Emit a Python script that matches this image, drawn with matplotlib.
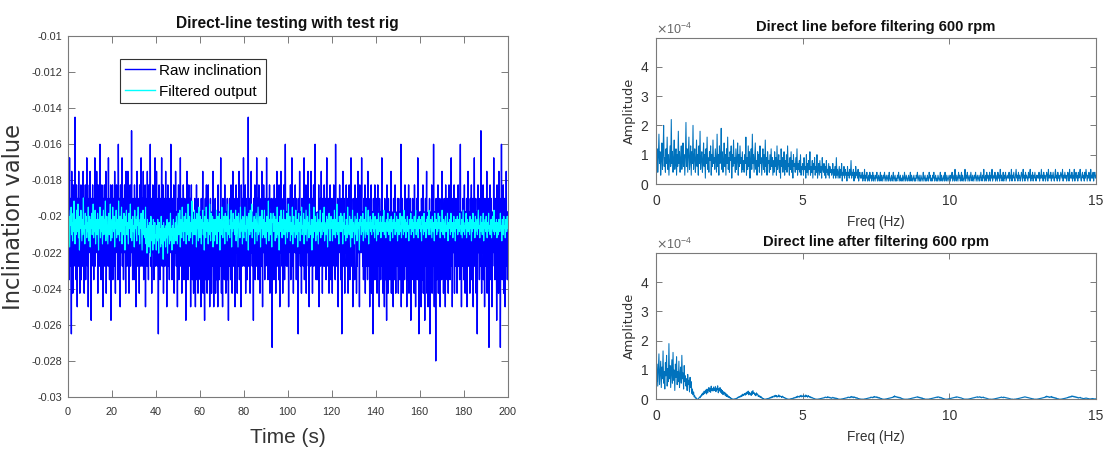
import numpy as np
import matplotlib
matplotlib.use('Agg')
import matplotlib.pyplot as plt
from matplotlib.ticker import FuncFormatter, ScalarFormatter, MultipleLocator

# ---------------- data ----------------
# Raw inclination: sensor is quantised; values stored as level index
# inclination = RAW_BASE + level * RAW_STEP   (0 .. 200 s)
RAW_BASE = -0.0205
RAW_STEP = 0.00075
raw_level = [
 0,3,-2,1,-4,5,-1,2,-3,0,-8,4,-2,1,-5,3,0,-3,2,-1,
 8,-2,1,-4,3,-1,-6,2,0,-3,4,-2,1,-5,2,-1,3,-4,0,2,
 -3,1,4,-2,0,-5,2,-1,3,-4,1,-2,5,0,-3,2,-6,1,-1,3,
 -2,4,-1,0,-7,2,-3,1,3,-2,0,-4,2,-1,5,-3,1,0,-2,4,
 -1,2,-5,3,0,-2,1,-3,6,-1,2,-4,0,3,-2,1,-6,2,-1,0,
 3,-3,1,-1,4,-5,0,2,-2,1,-3,5,-1,0,-4,2,-2,3,-7,1,
 0,-2,3,-4,1,2,-1,-3,4,0,-5,2,-1,3,-2,0,1,-4,6,-1,
 -3,2,0,-6,3,-1,1,-2,5,-3,0,2,-4,1,-1,3,-2,0,-5,4,
 2,-1,-3,1,4,-2,0,-5,2,-1,3,-3,1,-2,7,-1,0,-4,2,-2,
 1,-4,3,0,-2,2,-6,1,-1,4,-3,0,2,-2,1,-5,3,-1,0,-3,
 5,-2,0,-3,2,-1,4,-4,1,-2,0,3,-6,2,-1,1,-3,4,-2,0,
 -4,3,-1,1,-2,6,-3,0,2,-5,1,-1,3,-2,0,-4,2,-1,5,-3,
 0,-2,4,-1,-3,1,2,-8,0,3,-2,1,-4,2,-1,0,5,-3,1,-2,
 3,-5,1,-1,2,-3,0,4,-2,1,-6,2,-1,3,-3,0,1,-4,2,-1,
 -2,6,-1,0,-4,2,-3,1,-1,3,-5,0,2,-2,4,-1,-3,1,0,-6,
 2,-1,3,-4,0,1,-2,5,-3,-1,2,-5,1,0,-2,3,-1,-4,2,1,
 -3,0,-7,2,-1,4,-2,1,-4,0,3,-3,1,-1,2,-6,0,3,-2,1,
 -4,1,-2,-5,0,-3,2,-1,-6,1,-2,3,-4,0,-1,-5,2,-3,0,-2,
 1,-4,-1,-6,2,-3,0,-2,4,-5,-1,1,-3,-7,0,2,-4,-1,3,-2,
 -5,0,-2,3,-4,-1,1,-6,-2,2,-3,0,-5,1,-1,-3,4,-2,-6,0,
 -1,-3,2,-5,0,-2,-4,1,-1,-6,3,-2,0,-4,1,-3,-1,5,-2,-5,
 0,-2,-6,2,-3,1,-1,-4,3,-2,0,-5,1,-3,-1,2,-4,0,-7,1,
 -3,2,-1,0,-4,3,-2,1,-5,0,4,-1,-3,2,-2,0,-6,1,-1,3,
 -2,0,-5,2,-1,-3,1,4,-4,0,-2,1,-6,3,-1,0,-3,2,-2,5,
 1,-3,0,-1,3,-5,2,-2,0,-4,1,-1,8,-3,0,2,-2,-5,1,-1,
 4,-2,0,-3,1,-1,-7,2,0,-2,3,-4,1,-1,-3,5,0,-2,2,-4,
 -1,3,-2,0,-5,1,-1,2,-3,4,0,-6,1,-2,3,-1,0,-4,2,-3,
 0,-2,5,-1,-3,1,-4,2,0,-2,3,-5,1,-1,-3,2,0,-9,1,-2,
 2,-1,-4,3,0,-2,1,-5,2,-1,4,-3,0,-2,1,-4,3,-1,-6,0,
 -2,4,-1,1,-3,0,-5,2,-2,3,-1,-4,0,6,-2,1,-3,0,-1,2,
 -3,1,-6,2,-1,0,-2,3,-4,1,-1,5,-3,0,2,-5,1,-2,0,-1,
 3,-2,0,-4,2,-1,1,-3,-8,0,2,-2,4,-1,-3,1,0,-5,2,-2,
 -1,2,-3,0,5,-4,1,-1,-2,3,-5,0,1,-2,-1,4,-3,1,-6,0,
 2,-1,-3,4,0,-2,1,-5,2,-1,3,-3,0,-2,6,-1,1,-4,0,-2,
 -4,1,0,-2,3,-6,1,-1,2,-3,0,4,-2,1,-5,2,-1,0,-3,3,
 0,-3,2,-1,-4,1,5,-2,0,-3,2,-1,-5,1,-2,3,0,-4,1,-1,
 2,-5,1,-2,0,3,-3,1,-1,-4,6,-2,0,-3,1,-1,2,-6,0,-2,
 -1,3,-2,0,-4,2,-1,-8,1,-2,4,0,-3,2,-1,-5,1,0,-2,3,
 -3,0,2,-1,-5,1,-2,3,0,-4,2,-1,5,-3,1,-2,0,-6,2,-1,
 1,-2,-4,3,0,-1,2,-5,1,-3,0,4,-2,-1,1,-6,3,-2,0,-1,
 -2,5,-1,0,-3,1,-4,2,-2,0,3,-5,1,-1,-3,2,0,-4,4,-1,
 0,-3,1,-6,2,-1,-2,3,-5,0,1,-2,-8,2,-1,0,-4,3,-2,1,
 -4,2,-1,-5,0,3,-3,-1,1,-6,2,-2,0,-4,1,-3,5,-1,-2,-5,
 1,-3,-1,-6,2,0,-4,1,-2,-7,3,-1,0,-5,2,-3,-1,1,-4,0,
 -2,4,-5,0,-1,-3,1,-6,2,-2,0,-4,3,-1,-5,1,-2,0,-3,2,
 -1,-5,2,-3,0,-4,1,-2,6,-6,0,-1,2,-3,-5,1,-2,0,-4,3,
 -3,0,-2,1,-6,2,-1,-4,0,3,-5,1,-2,-1,2,-7,0,-3,1,-1,
 2,-4,0,-1,-5,3,-2,1,-6,0,-3,2,-1,-4,5,-2,0,-8,1,-1,
 -3,1,-2,-6,2,-1,0,-4,3,-5,-1,1,-2,-7,0,2,-3,-1,4,-5,
 0,-2,-6,1,-3,-1,2,-8,0,-4,1,-2,3,-5,-1,0,-3,6,-2,-6,
 1,-3,0,-10,2,-1,-4,1,-2,3,-5,0,-1,-3,2,-6,1,-2,0,-4,
 4,-1,-3,1,-5,0,2,-2,-1,-6,3,-3,0,1,-4,2,-1,-5,0,3,
 -2,0,-4,2,-1,5,-3,1,-6,0,2,-2,-1,3,-5,1,0,-3,2,-1,
 1,-5,0,-2,3,-3,1,-1,-4,2,6,-2,0,-6,1,-1,-3,2,0,-4,
 -1,3,-2,-5,1,0,-3,2,-6,1,-1,4,-3,0,-2,1,-5,2,-1,0,
 3,-4,0,-1,2,-6,1,-2,5,-3,0,-1,2,-5,1,-2,-8,0,3,-1,
 -2,1,-4,2,0,-3,7,-1,-5,1,-2,0,3,-4,1,-1,-6,2,0,-3,
 1,-2,4,-5,0,-1,2,-3,-9,1,-2,3,0,-4,2,-1,-6,1,-3,0,
 -1,5,-2,0,-4,2,-3,1,-1,-7,3,0,-2,1,-5,4,-1,-3,2,-9,
 0,-3,6,-1,-4,1,-2,3,-5,0,2,-1,-6,1,-3,4,-2,0,-4,1,
]

# Filtered output: inclination = FILT_BASE + level * FILT_STEP  (0 .. 200 s)
FILT_BASE = -0.0205
FILT_STEP = 0.00017
filt_level = [
 2,-4,5,-1,-7,3,0,6,-3,1,-5,4,-2,8,-1,-6,2,-3,5,0,
 -2,7,-4,1,-8,3,-1,5,0,-5,2,-3,9,-2,0,-6,4,-1,3,-4,
 1,-2,6,-5,0,3,-7,2,-1,4,-3,0,7,-4,1,-2,5,-6,2,-1,
 -3,4,0,-8,2,-1,6,-4,1,-2,3,-6,0,5,-3,2,-1,8,-5,0,
 3,-2,-6,1,4,-3,0,7,-5,2,-1,-4,6,0,-2,3,-7,1,-1,5,
 -4,2,0,-3,8,-1,-5,3,-2,1,6,-6,0,2,-3,4,-1,-8,3,0,
 5,-3,1,-2,-6,4,0,-1,7,-4,2,-5,1,3,-2,0,-7,5,-1,2,
 -2,-5,3,0,6,-3,1,-6,2,-1,4,-2,-8,1,5,-3,0,2,-4,6,
 -6,-1,-9,2,-4,0,-7,1,-3,-10,3,-2,-5,0,-8,2,-1,-6,1,-4,
 -3,-8,0,-5,2,-2,-9,1,-4,-1,-7,3,-3,-6,0,-11,1,-2,-5,-1,
 -7,0,-4,2,-9,-1,-3,1,-6,-2,4,-5,-1,-8,0,-3,2,-6,-1,-4,
 1,-5,3,-2,-6,0,4,-3,-1,5,-7,2,0,-4,6,-2,1,-5,3,-1,
 -2,4,-6,0,2,-3,7,-1,-5,3,0,-4,1,-2,8,-6,2,-1,-3,5,
 0,-3,2,-7,4,-1,1,-5,6,-2,-4,3,0,-6,2,-1,5,-3,1,-8,
 3,-1,-4,6,0,-2,2,-6,1,-3,7,-1,-5,4,0,-2,3,-7,2,0,
 -5,2,1,-3,5,-6,0,3,-2,-1,4,-8,2,0,-3,6,-1,-4,1,3,
 -1,-6,4,0,-2,3,-5,1,7,-3,0,-4,2,-1,5,-7,1,-2,4,-1,
 2,-3,-1,5,-5,0,3,-2,-7,4,1,-1,-4,6,-2,0,2,-6,3,-3,
 -4,1,6,-2,0,-5,3,-1,2,-8,4,0,-3,5,-1,-2,7,-4,1,-1,
 0,3,-6,2,-2,4,-1,-5,1,6,-3,0,-2,3,-7,1,-1,5,-4,2,
 -3,0,5,-4,1,-1,-6,3,0,-2,8,-5,2,-1,-3,4,0,-7,2,1,
 4,-2,-1,3,-5,0,2,-4,6,-1,-3,1,-8,3,0,-2,5,-1,-4,2,
 -1,5,-3,0,2,-6,1,-2,4,-4,0,7,-2,-1,3,-5,1,0,-3,6,
 -6,1,3,-2,0,-4,5,-1,-3,2,-7,0,4,-2,1,-5,3,-1,6,-3,
 0,-2,4,-6,2,-1,-3,5,0,-5,3,-1,1,-4,7,-2,0,-3,2,-8,
 2,-1,-4,6,-2,0,3,-5,1,-3,4,-1,-6,2,0,-2,5,-4,1,-1,
 -3,4,0,-2,6,-5,1,-1,-3,3,0,-7,2,-1,4,-2,-5,1,3,-1,
 1,-5,2,0,-3,5,-1,-4,2,-2,7,-3,0,1,-6,3,-1,-2,4,0,
 -2,3,-6,1,-1,4,-3,0,-5,2,1,-4,6,-2,0,-3,3,-1,-7,2,
 0,-4,5,-2,1,-1,-6,3,0,-3,2,-5,4,-1,1,-2,-8,2,0,3,
 -3,1,-2,4,-5,0,2,-1,-4,6,-2,1,-3,0,5,-6,1,-1,3,-2,
 1,-3,2,-1,4,-2,0,-4,3,-1,1,-5,2,0,-3,4,-1,1,-2,3,
 -4,1,-1,3,-2,0,5,-3,1,-1,-4,2,0,-2,4,-1,-3,1,2,-5,
 0,3,-2,1,-4,2,-1,0,4,-3,1,-2,3,-1,-5,2,0,-3,1,4,
 -2,0,-4,3,-1,1,-3,5,-2,0,2,-4,1,-1,3,-2,0,-5,2,1,
 -1,4,-3,0,2,-2,1,-4,3,-1,0,5,-3,1,-2,2,-4,0,3,-1,
 2,-2,0,-5,3,-1,1,-3,4,0,-2,1,-4,2,-1,3,0,-3,5,-2,
 -3,1,2,-1,-4,3,0,-2,1,-5,4,-1,0,2,-3,1,-2,4,-1,0,
 3,-4,1,0,-2,5,-1,-3,2,0,-4,1,3,-2,0,-1,4,-5,1,-1,
 0,2,-3,4,-1,-2,1,-4,0,3,-2,1,-5,2,0,-1,3,-3,1,2,
 -2,4,-1,0,-3,2,-4,1,5,-2,0,-3,1,-1,4,-4,0,2,-2,1,
 1,-3,3,-1,0,-5,2,-2,4,0,-1,1,-4,3,-2,0,2,-3,1,5,
 -1,0,-4,2,3,-2,1,-3,0,4,-5,1,-1,2,-2,3,0,-4,1,-1,
 4,-2,0,-3,1,2,-4,0,3,-1,-2,5,-3,1,0,-2,2,-4,1,0,
 -3,2,1,-2,4,-1,0,-5,2,1,-3,3,-1,0,-4,2,1,-2,3,-1,
]

# Amplitude spectrum before filtering, units of 1e-5 (0 .. 15 Hz)
amp_before = [
 15,6,12,4,9,17,7,11,3,8,14,5,10,20,6,9,4,12,7,16,5,10,3,8,13,6,22,7,11,4,9,15,5,8,12,3,10,6,18,7,11,4,9,13,5,8,14,6,10,3,
 9,21,6,12,4,10,16,5,8,13,3,11,7,20,5,9,12,4,8,15,6,10,3,13,7,18,5,9,11,4,8,14,6,10,2,12,7,16,5,9,4,11,8,13,3,10,6,15,7,9,
 5,12,8,4,17,6,10,3,13,7,9,19,5,11,4,8,14,6,10,3,12,7,16,5,9,4,11,8,13,2,10,6,15,7,9,4,12,5,8,14,3,10,6,13,7,9,4,11,5,8,
 4,10,7,16,3,9,5,13,6,11,2,8,12,5,17,7,10,4,9,14,5,8,3,11,6,10,4,13,7,9,3,8,12,5,10,4,15,6,9,3,11,7,8,4,10,5,12,6,9,3,
 8,4,11,6,9,3,13,5,7,10,4,8,2,12,6,9,4,7,11,3,8,5,10,4,13,6,7,3,9,5,11,4,8,2,10,6,7,4,9,5,12,3,7,5,8,4,10,3,6,5,
 7,3,9,5,6,2,10,4,7,3,8,5,11,3,6,4,8,2,7,5,9,3,6,4,10,2,5,7,3,8,4,6,2,9,5,4,7,3,6,2,8,4,5,3,7,2,6,4,5,3,
 4,7,2,5,3,6,2,9,3,5,2,4,6,2,5,3,7,1,4,3,6,2,5,3,4,1,6,3,4,2,5,3,8,2,4,3,5,1,4,2,6,3,4,2,5,1,3,4,2,3,
 2,4,1,3,2,5,1,3,2,4,1,2,3,1,4,2,3,1,2,4,1,3,2,1,3,2,4,1,2,3,1,2,4,1,3,2,1,3,2,4,1,2,3,1,2,3,1,4,2,1,
 2,3,1,2,4,1,2,3,1,2,1,3,2,4,1,2,3,1,2,1,3,2,1,4,2,1,3,2,1,2,3,1,2,4,1,3,2,1,2,3,1,2,1,3,2,4,1,2,3,1,
 1,3,2,1,2,4,1,2,3,1,2,1,3,2,1,4,2,3,1,2,1,3,2,4,1,2,3,1,2,1,3,2,1,2,4,1,3,2,1,2,3,1,4,2,1,3,2,1,2,3,
 2,1,3,2,4,1,2,3,1,5,2,1,3,2,1,4,2,3,1,2,4,1,3,2,1,2,5,1,3,2,4,1,2,3,1,2,4,2,1,3,2,1,3,2,4,1,2,3,1,2,
 3,1,2,4,2,1,3,2,5,1,2,3,1,4,2,3,1,2,4,1,3,2,5,1,2,3,2,4,1,3,2,1,4,2,3,1,5,2,3,1,2,4,1,3,2,4,1,2,3,2,
 2,4,1,3,2,5,1,3,2,4,2,1,3,5,2,3,1,4,2,3,1,2,4,3,1,5,2,3,1,4,2,3,2,1,4,2,3,5,1,3,2,4,1,3,2,4,2,1,3,2,
 3,2,4,1,3,2,5,2,3,1,4,2,3,1,2,4,3,1,5,2,3,2,4,1,3,2,4,2,1,3,5,2,3,1,4,2,3,1,2,4,3,2,5,1,3,2,4,2,3,1,
 2,4,3,1,5,2,3,2,4,1,3,2,5,1,3,4,2,3,1,4,2,3,5,2,1,3,4,2,3,1,4,2,5,3,1,3,2,4,3,1,5,2,3,2,4,1,3,4,2,3,
]

# Amplitude spectrum after filtering, units of 1e-6 (0 .. 15 Hz)
amp_after = [
 140,60,120,45,100,155,50,90,130,40,110,70,165,55,95,35,125,80,150,45,105,60,190,70,115,40,90,135,55,160,65,100,30,120,75,145,50,95,60,130,40,85,110,55,150,70,90,35,115,60,
 80,45,70,30,85,50,65,25,75,40,60,20,35,15,25,8,12,4,6,2,1,0,2,4,8,5,12,10,18,14,22,16,28,20,25,32,18,35,22,30,40,26,38,24,45,30,36,28,42,34,
 30,44,26,38,32,46,22,36,28,40,24,34,20,30,16,26,18,24,12,20,10,16,8,12,6,9,4,6,2,3,1,0,1,0,2,1,3,2,5,4,8,6,10,7,12,9,15,11,18,13,
 16,20,14,22,17,25,19,28,15,24,18,21,13,26,17,30,20,23,15,19,12,22,16,18,10,14,8,11,6,9,4,5,2,3,1,0,1,0,2,1,3,2,4,3,6,4,8,5,10,7,
 9,12,8,14,10,13,7,11,9,15,8,12,10,9,6,11,7,8,5,6,3,4,2,2,1,0,1,0,1,2,1,3,2,4,3,6,4,7,5,9,6,11,8,10,7,12,9,14,8,11,
 10,13,9,12,8,15,10,11,7,13,9,10,6,9,5,7,4,5,3,3,2,1,1,0,1,0,1,1,2,1,3,2,4,3,5,4,6,5,8,6,7,5,9,6,8,5,7,4,6,3,
 5,7,4,6,3,5,2,4,2,3,1,1,0,1,0,1,1,2,1,3,2,4,3,5,4,6,5,8,6,7,5,9,6,10,7,8,5,9,6,7,4,6,3,5,2,3,1,2,1,0,
 1,0,1,0,1,1,2,1,3,2,4,3,5,4,6,5,8,6,7,5,9,6,10,7,8,6,9,5,7,4,6,3,4,2,3,1,1,0,1,0,1,1,2,1,3,2,4,3,5,4,
 6,5,7,6,9,7,12,8,10,7,9,6,8,5,7,4,6,3,4,2,2,1,1,0,1,0,0,1,0,1,1,2,1,3,2,4,3,5,4,6,5,7,6,8,7,9,6,8,5,7,
 4,6,3,5,2,3,1,2,1,0,1,0,1,0,1,1,2,1,3,2,4,3,5,4,6,5,7,6,8,6,9,7,8,5,7,4,6,3,4,2,3,1,1,0,1,0,1,1,2,1,
 3,2,4,3,5,4,6,5,7,6,8,6,9,7,8,6,7,5,6,4,5,3,3,2,1,1,0,1,0,1,1,0,1,2,1,3,2,4,3,5,4,6,5,7,6,8,7,9,6,8,
 7,9,6,8,5,7,6,8,5,6,4,5,3,4,2,2,1,1,0,1,0,0,1,0,1,1,2,1,3,2,4,3,5,4,6,5,7,6,8,6,7,5,8,6,7,5,6,4,5,3,
 4,3,2,2,1,1,0,1,0,0,1,0,1,1,2,1,3,2,4,3,5,4,6,5,7,6,8,7,9,7,8,6,7,5,6,4,5,3,4,2,3,1,2,1,0,1,0,1,0,1,
 1,2,1,3,2,4,3,5,4,6,5,7,6,9,7,11,8,10,7,9,6,8,7,10,6,8,5,7,4,6,3,5,2,3,1,2,1,0,1,0,1,1,2,1,3,2,4,3,5,4,
 6,5,8,6,9,7,10,8,12,9,11,8,10,7,9,6,8,5,7,4,6,5,7,4,5,3,4,2,3,2,4,3,5,3,4,2,3,1,2,1,2,1,3,2,3,1,2,1,2,1,
]

left_title = 'Direct-line testing with test rig'
top_title = 'Direct line before filtering 600 rpm'
bot_title = 'Direct line after filtering 600 rpm'
legend_labels = ['Raw inclination', 'Filtered output']

# ---------------- style ----------------
SANS = ['Liberation Sans', 'DejaVu Sans']
WIDE = ['DejaVu Sans']
plt.rcParams['font.family'] = SANS
plt.rcParams['axes.unicode_minus'] = False

SPINE = '#7a7a7a'
TXT = '#333333'

W, H = 1105, 454
fig = plt.figure(figsize=(W / 100, H / 100), dpi=100)

def px_axes(x0, y0, x1, y1):
    return fig.add_axes([x0 / W, 1 - y1 / H, (x1 - x0) / W, (y1 - y0) / H])

def style(ax, tick_len, lab_size):
    for s in ax.spines.values():
        s.set_color(SPINE)
        s.set_linewidth(0.8)
    ax.tick_params(direction='in', length=tick_len, width=0.7, color=SPINE,
                   top=True, right=True, labelsize=lab_size, labelcolor=TXT)

# ---- left: time series ----
axL = px_axes(67.7, 36, 507.7, 397)
raw = RAW_BASE + np.array(raw_level) * RAW_STEP
filt = FILT_BASE + np.array(filt_level) * FILT_STEP
t_raw = np.linspace(0, 200, len(raw))
t_f = np.linspace(0, 200, len(filt))
axL.plot(t_raw, raw, color='#0000ff', lw=1.0, label=legend_labels[0])
axL.plot(t_f, filt, color='#00ffff', lw=0.8, label=legend_labels[1])
axL.set_xlim(0, 200)
axL.set_ylim(-0.03, -0.01)
axL.xaxis.set_major_locator(MultipleLocator(20))
axL.yaxis.set_major_locator(MultipleLocator(0.002))
axL.yaxis.set_major_formatter(FuncFormatter(lambda v, p: '%g' % round(v, 6)))
style(axL, 5, 7.8)
axL.tick_params(axis='x', pad=7)
axL.tick_params(axis='y', pad=4)
axL.set_title(left_title, fontsize=11.2, fontweight='bold', color='#111111', pad=6)
axL.set_xlabel('Time (s)', fontsize=15, color=TXT)
axL.xaxis.set_label_coords(0.5, -0.085)
axL.set_ylabel('Inclination value', fontsize=16.3, color=TXT, family=WIDE)
axL.yaxis.set_label_coords(-0.098, 0.5)
leg = axL.legend(loc='upper left', bbox_to_anchor=(0.119, 0.936), borderaxespad=0,
                 fontsize=11, frameon=True, fancybox=False, framealpha=1,
                 handlelength=2.0, handletextpad=0.25, borderpad=0.3, labelspacing=0.45)
leg.get_frame().set_edgecolor('#333333')
leg.get_frame().set_linewidth(0.8)
for line in leg.get_lines():
    line.set_linewidth(1.0)

# ---- right: spectra ----
def spectrum(ax, vals, unit, title):
    f = np.linspace(0, 15, len(vals))
    ax.plot(f, np.array(vals) * unit, color='#0072BD', lw=0.75)
    ax.set_xlim(0, 15)
    ax.set_ylim(0, 4.98e-4)
    ax.xaxis.set_major_locator(MultipleLocator(5))
    ax.yaxis.set_major_locator(MultipleLocator(1e-4))
    fmt = ScalarFormatter(useMathText=True)
    fmt.set_powerlimits((-3, 3))
    ax.yaxis.set_major_formatter(fmt)
    style(ax, 4, 10)
    ax.tick_params(axis='x', pad=7)
    ax.tick_params(axis='y', pad=5)
    ax.yaxis.get_offset_text().set_fontsize(9)
    ax.yaxis.get_offset_text().set_color('#666666')
    ax.set_title(title, fontsize=10.6, fontweight='bold', color='#111111', pad=5)
    ax.set_xlabel('Freq (Hz)', fontsize=9.8, color=TXT)
    ax.xaxis.set_label_coords(0.5, -0.21)
    ax.set_ylabel('Amplitude', fontsize=9.3, color=TXT, family=WIDE)
    ax.yaxis.set_label_coords(-0.045, 0.5)

axT = px_axes(656, 38, 1096, 184)
spectrum(axT, amp_before, 1e-5, top_title)
axB = px_axes(656, 253.3, 1096, 399.3)
spectrum(axB, amp_after, 1e-6, bot_title)

fig.savefig('out.png', dpi=100)
